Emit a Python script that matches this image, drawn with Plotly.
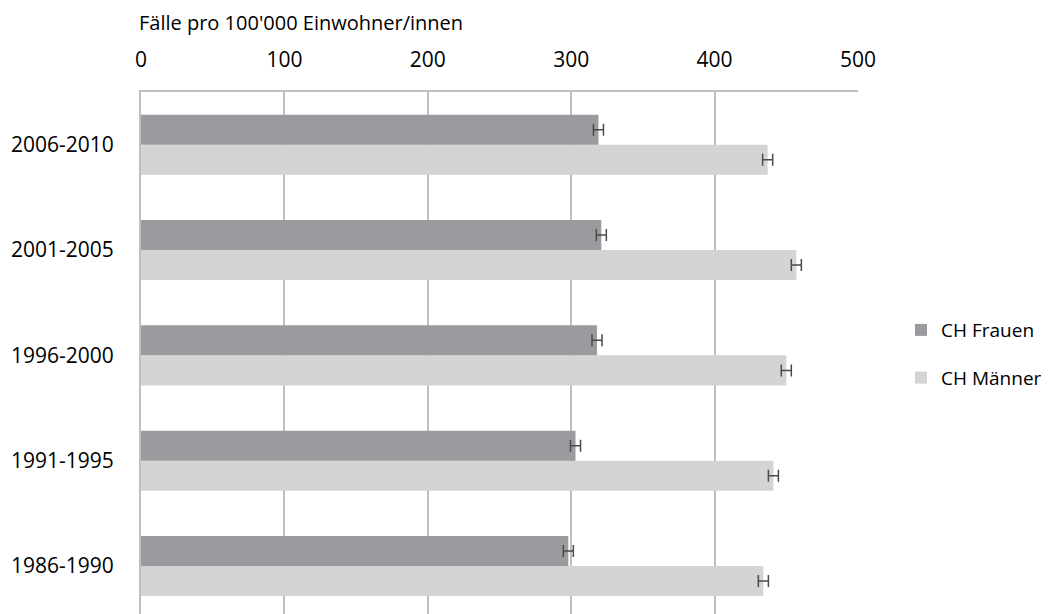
import plotly.graph_objects as go

periods = ["1986-1990", "1991-1995", "1996-2000", "2001-2005", "2006-2010"]
frauen = [298, 303, 318, 321, 319]
maenner = [434, 441, 450, 457, 437]
err_frauen = [3.5, 3.5, 3.5, 3.5, 3.5]
err_maenner = [3.5, 3.5, 3.5, 3.5, 3.5]
x_ticks = [0, 100, 200, 300, 400, 500]
x_title = "Fälle pro 100'000 Einwohner/innen"

FONT = "Open Sans"
fig = go.Figure()
fig.add_trace(go.Bar(
    y=periods, x=maenner, orientation="h", name="CH Männer",
    marker=dict(color="#d3d4d4", line=dict(width=0)),
    error_x=dict(type="data", array=err_maenner, color="#4a4a4a", thickness=1.5, width=6),
    legendrank=2, legendgroup="m",
))
fig.add_trace(go.Bar(
    y=periods, x=frauen, orientation="h", name="CH Frauen",
    marker=dict(color="#999b9e", line=dict(width=0)),
    error_x=dict(type="data", array=err_frauen, color="#4a4a4a", thickness=1.5, width=6),
    legendrank=1, legendgroup="f",
))

fig.update_layout(
    width=1041, height=606,
    margin=dict(l=133, r=191, t=84, b=0, autoexpand=False),
    paper_bgcolor="white", plot_bgcolor="white",
    barmode="group", bargap=0.43, bargroupgap=0,
    font=dict(family=FONT, color="#000000", size=21),
    legend=dict(x=1.06, xanchor="left", y=0.498, yanchor="middle",
                font=dict(size=19), tracegroupgap=20, itemwidth=30,
                bgcolor="rgba(0,0,0,0)"),
    showlegend=True,
    annotations=[dict(text=x_title, xref="paper", yref="paper", x=-0.006, y=1.134,
                      xanchor="left", yanchor="middle", showarrow=False,
                      font=dict(size=20, family=FONT, color="#000000"))],
)
fig.update_xaxes(
    side="top", range=[0, 500], tickvals=x_ticks, automargin=False,
    showgrid=True, gridcolor="#bfbfbf", gridwidth=2,
    showline=True, linecolor="#bfbfbf", linewidth=2, mirror=True,
    zeroline=False, ticks="", ticklabelstandoff=15,
    tickfont=dict(size=21),
)
fig.update_yaxes(
    categoryorder="array", categoryarray=periods, automargin=False,
    range=[-0.455, 4.5],
    showline=True, linecolor="#bfbfbf", linewidth=2,
    showgrid=False, zeroline=False, ticks="", ticklabelstandoff=21,
    tickfont=dict(size=21),
)
fig.write_html("out.html")
